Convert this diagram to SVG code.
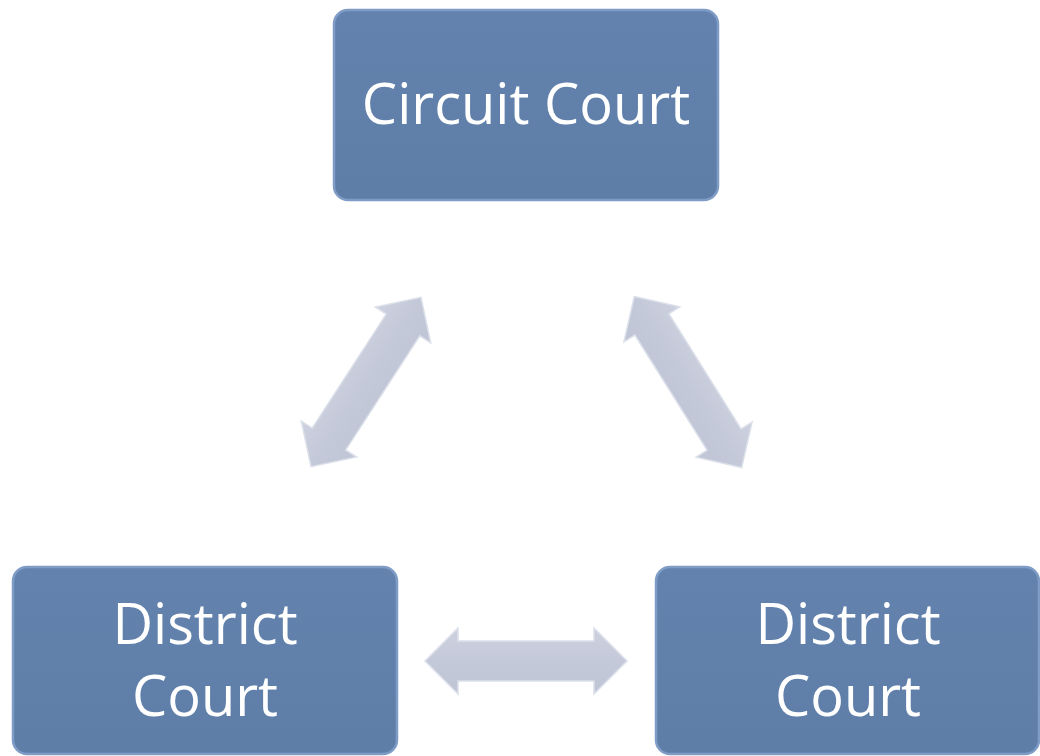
<svg xmlns="http://www.w3.org/2000/svg" width="1040" height="756" viewBox="0 0 1040 756">
  <defs>
    <linearGradient id="boxg" x1="0" y1="0" x2="0" y2="1">
      <stop offset="0" stop-color="#6383AE"/>
      <stop offset="1" stop-color="#5E7EA8"/>
    </linearGradient>
    <linearGradient id="arrg" x1="0" y1="0" x2="0" y2="1">
      <stop offset="0" stop-color="#CDD1DF"/>
      <stop offset="0.5" stop-color="#C4C9D9"/>
      <stop offset="1" stop-color="#C0C5D6"/>
    </linearGradient>
    <path id="arrow" d="M -101 0 L -68 -33 L -68 -20 L 68 -20 L 68 -33 L 101 0 L 68 33 L 68 20 L -68 20 L -68 33 Z"/>
  </defs>
  <style>
    .box { fill: url(#boxg); stroke: #7F9CC6; stroke-width: 2.5; }
    .lbl { font-family: "Open Sans", "Liberation Sans", sans-serif; font-size: 56px; fill: #FFFFFF; text-anchor: middle; }
    .arr { fill: url(#arrg); stroke: #DCE0EA; stroke-width: 1.5; stroke-linejoin: miter; }
  </style>
  <rect width="1040" height="756" fill="#FFFFFF"/>
  <g id="connectors">
    <use href="#arrow" class="arr" transform="translate(366 382) rotate(-57)"/>
    <use href="#arrow" class="arr" transform="translate(688 382) rotate(57.9)"/>
    <use href="#arrow" class="arr" transform="translate(526 661)"/>
  </g>
  <g id="circuit-court">
    <rect class="box" x="334" y="10" width="384" height="190" rx="14"/>
    <text class="lbl" x="526" y="124">Circuit Court</text>
  </g>
  <g id="district-court-left">
    <rect class="box" x="13" y="567" width="384" height="187" rx="14"/>
    <text class="lbl" x="205" y="644">District</text>
    <text class="lbl" x="205" y="716">Court</text>
  </g>
  <g id="district-court-right">
    <rect class="box" x="656" y="567" width="383" height="187" rx="14"/>
    <text class="lbl" x="848" y="644">District</text>
    <text class="lbl" x="848" y="716">Court</text>
  </g>
</svg>
